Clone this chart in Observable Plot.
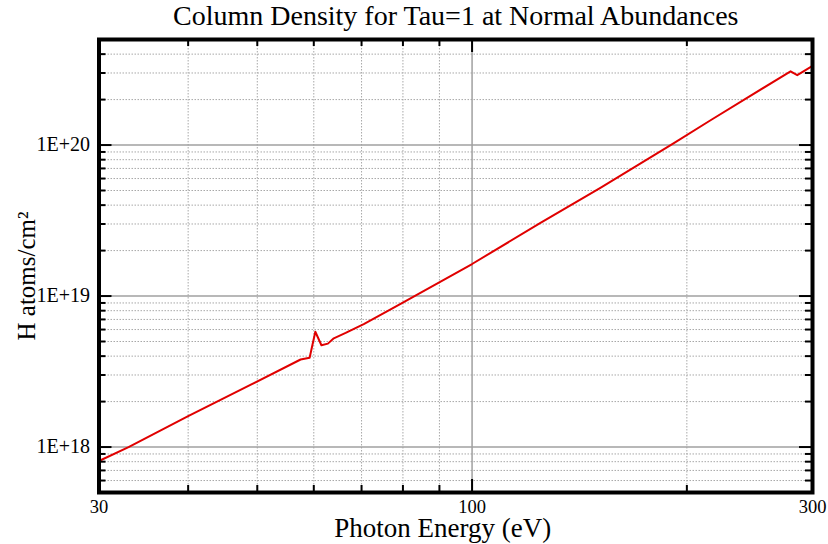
<!DOCTYPE html>
<html><head><meta charset="utf-8">
<script src="https://cdn.jsdelivr.net/npm/d3@7"></script>
<script src="https://cdn.jsdelivr.net/npm/@observablehq/plot@0.6"></script>
<style>body{margin:0;background:#fff} svg{display:block}</style>
</head><body><div id="chart"></div>
<script>
// Data
const energy = [30, 33, 40, 48.9, 57.5, 59.2, 60.3, 61.5, 62.8, 64.0, 66.5, 70.5, 79.4, 100, 124.7, 151.3, 191.8, 215.9, 279.5, 285.6, 300];
const column = [8.08e17, 1.0e18, 1.60e18, 2.58e18, 3.80e18, 3.90e18, 5.80e18, 4.72e18, 4.84e18, 5.25e18, 5.70e18, 6.52e18, 8.87e18, 1.63e19, 3.05e19, 5.2e19, 1.03e20, 1.46e20, 3.08e20, 2.90e20, 3.34e20];

const xTicks = [30, 100, 300];
const xTickLabels = ["30", "100", "300"];
const xMajorGrid = [100];
const xMinor = [40, 50, 60, 70, 80, 90, 200];
const yTicks = [1e18, 1e19, 1e20];
const yTickLabels = ["1E+18", "1E+19", "1E+20"];
const yMinor = [6e17, 7e17, 8e17, 9e17, 2e18, 3e18, 4e18, 5e18, 6e18, 7e18, 8e18, 9e18, 2e19, 3e19, 4e19, 5e19, 6e19, 7e19, 8e19, 9e19, 2e20, 3e20, 4e20];

const titleText = "Column Density for Tau=1 at Normal Abundances";
const xLabel = "Photon Energy (eV)";
const yLabel = "H atoms/cm²";

const data = energy.map((e, i) => ({e, n: column[i]}));

const W = 828, H = 544, mL = 98.5, mR = 16, mT = 39, mB = 52;
const pw = W - mL - mR, ph = H - mT - mB;
const font = "'Liberation Serif','Times New Roman',serif";
const minorLen = 7, majorLen = 13;

const chart = Plot.plot({
  width: W, height: H,
  marginLeft: mL, marginRight: mR, marginTop: mT, marginBottom: mB,
  style: {fontFamily: font, background: "#fff", overflow: "visible", color: "#000"},
  x: {type: "log", domain: [30, 300], axis: null},
  y: {type: "log", domain: [5e17, 5e20], axis: null},
  marks: [
    // minor grid
    Plot.ruleX(xMinor, {x: d => d, stroke: "#a8a8a8", strokeWidth: 1, strokeDasharray: "1.5,1.5"}),
    Plot.ruleY(yMinor, {y: d => d, stroke: "#a8a8a8", strokeWidth: 1, strokeDasharray: "1.5,1.5"}),
    // major grid
    Plot.ruleX(xMajorGrid, {x: d => d, stroke: "#a0a0a0", strokeWidth: 1.5}),
    Plot.ruleY(yTicks, {y: d => d, stroke: "#a0a0a0", strokeWidth: 1.5}),
    // data line
    Plot.line(data, {x: "e", y: "n", stroke: "#e00000", strokeWidth: 2}),
    // inward ticks: bottom / top
    Plot.tickX(xMinor, {x: d => d, insetTop: ph - minorLen, stroke: "#000", strokeWidth: 2}),
    Plot.tickX(xMinor, {x: d => d, insetBottom: ph - minorLen, stroke: "#000", strokeWidth: 2}),
    Plot.tickX(xMajorGrid, {x: d => d, insetTop: ph - majorLen, stroke: "#000", strokeWidth: 2}),
    Plot.tickX(xMajorGrid, {x: d => d, insetBottom: ph - majorLen, stroke: "#000", strokeWidth: 2}),
    // inward ticks: left / right
    Plot.tickY(yMinor, {y: d => d, insetRight: pw - minorLen, stroke: "#000", strokeWidth: 2}),
    Plot.tickY(yMinor, {y: d => d, insetLeft: pw - minorLen, stroke: "#000", strokeWidth: 2}),
    Plot.tickY(yTicks, {y: d => d, insetRight: pw - majorLen, stroke: "#000", strokeWidth: 2}),
    Plot.tickY(yTicks, {y: d => d, insetLeft: pw - majorLen, stroke: "#000", strokeWidth: 2}),
    // frame
    Plot.frame({stroke: "#000", strokeWidth: 4}),
    // tick labels
    Plot.text(xTicks, {x: d => d, frameAnchor: "bottom", lineAnchor: "middle", text: (d, i) => xTickLabels[i], dy: 14.5, fontSize: 18.5, fill: "#000"}),
    Plot.text(yTicks, {y: d => d, frameAnchor: "left", lineAnchor: "middle", text: (d, i) => yTickLabels[i], textAnchor: "end", dx: -9, fontSize: 20, fill: "#000"}),
    // titles
    Plot.text([titleText], {frameAnchor: "top", lineAnchor: "middle", textAnchor: "middle", dy: -23, fontSize: 28, fill: "#000"}),
    Plot.text([xLabel], {frameAnchor: "bottom", lineAnchor: "middle", textAnchor: "middle", dy: 36, dx: -13, fontSize: 27, fill: "#000"}),
    Plot.text([yLabel], {frameAnchor: "left", lineAnchor: "middle", textAnchor: "middle", rotate: -90, dx: -72, dy: 10, fontSize: 25, fill: "#000"})
  ]
});
document.getElementById("chart").appendChild(chart);
</script>
</body></html>
